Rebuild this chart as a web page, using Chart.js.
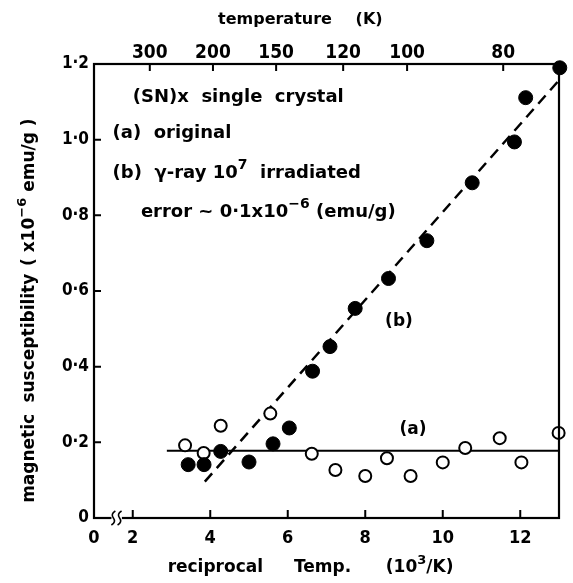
<!DOCTYPE html>
<html>
<head>
<meta charset="utf-8">
<script src="https://cdn.jsdelivr.net/npm/chart.js@4.4.0/dist/chart.umd.min.js"></script>
<style>
  body { margin: 0; background: #fff; }
  #wrap { width: 573px; height: 583px; }
</style>
</head>
<body>
<div id="wrap"><canvas id="myChart"></canvas></div>
<script>
// (a) original - open circles
let origX = [3.35, 3.83, 4.27, 5.55, 6.62, 7.23, 8.0, 8.56, 9.17, 10.0, 10.58, 11.47, 12.03, 12.99];
let origY = [0.192, 0.172, 0.244, 0.276, 0.170, 0.127, 0.111, 0.158, 0.111, 0.147, 0.185, 0.211, 0.147, 0.225];

// (b) gamma-ray irradiated - filled circles
let irrX = [3.43, 3.84, 4.27, 5.0, 5.62, 6.04, 6.64, 7.09, 7.74, 8.60, 9.59, 10.76, 11.85, 12.14, 13.02];
let irrY = [0.141, 0.141, 0.176, 0.148, 0.196, 0.238, 0.388, 0.453, 0.554, 0.633, 0.733, 0.886, 0.994, 1.111, 1.190];

// guide lines
let lineAX = [2.88, 13];
let lineAY = [0.178, 0.178];
let lineBX = [3.86, 13];
let lineBY = [0.096, 1.157];

// axis ticks
let bottomTicks = [1, 2, 4, 6, 8, 10, 12];
let bottomLabels = ['0', '2', '4', '6', '8', '10', '12'];
let topTicks = [2.44, 4.07, 5.70, 7.43, 9.08, 11.56];
let topLabels = ['300', '200', '150', '120', '100', '80'];
let yTicks = [0, 0.2, 0.4, 0.6, 0.8, 1.0, 1.2];
let yLabels = ['0', '0·2', '0·4', '0·6', '0·8', '1·0', '1·2'];

const COND = '"DejaVu Sans Condensed", "DejaVu Sans", sans-serif';
const WIDE = '"DejaVu Sans", sans-serif';

const toPts = (xs, ys) => xs.map((x, i) => ({ x: x, y: ys[i] }));

// text with superscripts: parts = [[text, isSup], ...]
const richText = (ctx, parts, x, y, size, family, align) => {
  const norm = 'bold ' + size + 'px ' + family;
  const small = 'bold ' + Math.round(size * 0.75) + 'px ' + family;
  let total = 0;
  parts.forEach(p => {
    ctx.font = p[1] ? small : norm;
    total += ctx.measureText(p[0]).width;
  });
  let cx = align === 'center' ? x - total / 2 : x;
  ctx.textAlign = 'left';
  ctx.textBaseline = 'middle';
  parts.forEach(p => {
    ctx.font = p[1] ? small : norm;
    ctx.fillText(p[0], cx, p[1] ? y - size * 0.45 : y);
    cx += ctx.measureText(p[0]).width;
  });
};

const frame = {
  id: 'frame',
  afterDatasetsDraw(chart) {
    const ctx = chart.ctx;
    const a = chart.chartArea;
    const sx = chart.scales.x, sy = chart.scales.y, st = chart.scales.x2;
    ctx.save();
    ctx.strokeStyle = '#000';
    ctx.fillStyle = '#000';
    ctx.lineWidth = 2.2;
    ctx.strokeRect(a.left, a.top, a.right - a.left, a.bottom - a.top);

    // inward tick marks
    ctx.lineWidth = 2;
    ctx.beginPath();
    yTicks.forEach(v => {
      const py = sy.getPixelForValue(v);
      ctx.moveTo(a.left, py);
      ctx.lineTo(a.left + 7, py);
    });
    bottomTicks.slice(1).forEach(v => {
      const px = sx.getPixelForValue(v);
      ctx.moveTo(px, a.bottom);
      ctx.lineTo(px, a.bottom - 8);
    });
    topTicks.forEach(v => {
      const px = st.getPixelForValue(v);
      ctx.moveTo(px, a.top);
      ctx.lineTo(px, a.top + 7);
    });
    ctx.stroke();

    // axis break
    const b1 = sx.getPixelForValue(1.45), b2 = sx.getPixelForValue(1.72);
    ctx.fillStyle = '#fff';
    ctx.fillRect(b1, a.bottom - 3, b2 - b1, 6);
    ctx.strokeStyle = '#000';
    ctx.lineWidth = 1.6;
    [1.5, 1.66].forEach(v => {
      const px = sx.getPixelForValue(v);
      ctx.beginPath();
      ctx.moveTo(px + 2, a.bottom - 7);
      ctx.quadraticCurveTo(px - 3, a.bottom - 4, px, a.bottom);
      ctx.quadraticCurveTo(px + 3, a.bottom + 4, px - 2, a.bottom + 7);
      ctx.stroke();
    });

    // titles
    ctx.fillStyle = '#000';
    richText(ctx, [['temperature', false]], sx.getPixelForValue(4.2), 20, 16, WIDE, 'left');
    richText(ctx, [['(K)', false]], sx.getPixelForValue(7.75), 20, 16, WIDE, 'left');
    richText(ctx, [['reciprocal', false]], sx.getPixelForValue(2.9), 568, 17, WIDE, 'left');
    richText(ctx, [['Temp.', false]], sx.getPixelForValue(6.16), 568, 17, WIDE, 'left');
    richText(ctx, [['(10', false], ['3', true], ['/K)', false]], sx.getPixelForValue(8.53), 568, 17, WIDE, 'left');
    ctx.save();
    ctx.translate(30, 0);
    ctx.rotate(-Math.PI / 2);
    richText(ctx, [['magnetic', false]], -sy.getPixelForValue(0.04), 0, 17, WIDE, 'left');
    richText(ctx, [['susceptibility', false]], -sy.getPixelForValue(0.305), 0, 17, WIDE, 'left');
    richText(ctx, [['( x10', false], ['−6', true], [' emu/g )', false]], -sy.getPixelForValue(0.666), 0, 17, WIDE, 'left');
    ctx.restore();

    // annotations
    const at = (x, y) => [sx.getPixelForValue(x), sy.getPixelForValue(y)];
    let p = at(2.0, 1.112);
    richText(ctx, [['(SN)x  single  crystal', false]], p[0], p[1], 18, WIDE, 'left');
    p = at(1.48, 1.018);
    richText(ctx, [['(a)  original', false]], p[0], p[1], 18, WIDE, 'left');
    p = at(1.48, 0.912);
    richText(ctx, [['(b)  γ-ray 10', false], ['7', true], ['  irradiated', false]], p[0], p[1], 18, WIDE, 'left');
    p = at(2.21, 0.808);
    richText(ctx, [['error ~ 0·1x10', false], ['−6', true], [' (emu/g)', false]], p[0], p[1], 18, WIDE, 'left');
    p = at(8.87, 0.52);
    richText(ctx, [['(b)', false]], p[0], p[1], 17, WIDE, 'center');
    p = at(9.23, 0.233);
    richText(ctx, [['(a)', false]], p[0], p[1], 17, WIDE, 'center');
    ctx.restore();
  }
};

const ctx = document.getElementById('myChart');

new Chart(ctx, {
  type: 'scatter',
  data: {
    datasets: [
      {
        label: '(a) fit',
        type: 'line',
        data: toPts(lineAX, lineAY),
        borderColor: '#000',
        borderWidth: 2,
        pointRadius: 0,
        order: 3,
      },
      {
        label: '(b) fit',
        type: 'line',
        data: toPts(lineBX, lineBY),
        borderColor: '#000',
        borderWidth: 2.5,
        borderDash: [11, 7],
        pointRadius: 0,
        order: 3,
      },
      {
        label: '(a) original',
        data: toPts(origX, origY),
        pointRadius: 6,
        pointBackgroundColor: '#fff',
        pointBorderColor: '#000',
        pointBorderWidth: 2,
        clip: false,
        order: 2,
      },
      {
        label: '(b) irradiated',
        data: toPts(irrX, irrY),
        pointRadius: 7,
        pointBackgroundColor: '#000',
        pointBorderColor: '#000',
        pointBorderWidth: 1,
        clip: false,
        order: 1,
      },
    ],
  },
  options: {
    responsive: true,
    maintainAspectRatio: false,
    animation: false,
    layout: { padding: { left: 0, right: 14, top: 0, bottom: 0 } },
    plugins: { legend: { display: false }, tooltip: { enabled: false } },
    scales: {
      x: {
        type: 'linear',
        position: 'bottom',
        min: 1,
        max: 13,
        afterBuildTicks: s => { s.ticks = bottomTicks.map(v => ({ value: v })); },
        afterFit: s => { s.height = 65; },
        ticks: {
          callback: v => bottomLabels[bottomTicks.indexOf(v)],
          font: { family: COND, size: 18, weight: 'bold' },
          color: '#000',
          padding: 10,
          maxRotation: 0,
          autoSkip: false,
        },
        grid: { display: false, drawTicks: false },
        border: { display: false },
      },
      x2: {
        type: 'linear',
        position: 'top',
        min: 1,
        max: 13,
        afterBuildTicks: s => { s.ticks = topTicks.map(v => ({ value: v })); },
        afterFit: s => { s.height = 64; },
        ticks: {
          callback: v => topLabels[topTicks.indexOf(v)],
          font: { family: COND, size: 19, weight: 'bold' },
          color: '#000',
          padding: 0,
          maxRotation: 0,
          autoSkip: false,
        },
        grid: { display: false, drawTicks: false },
        border: { display: false },
      },
      y: {
        min: 0,
        max: 1.2,
        afterBuildTicks: s => { s.ticks = yTicks.map(v => ({ value: v })); },
        afterFit: s => { s.width = 94; },
        ticks: {
          callback: v => yLabels[yTicks.indexOf(v)],
          font: { family: COND, size: 17, weight: 'bold' },
          color: '#000',
          padding: 5,
          autoSkip: false,
        },
        grid: { display: false, drawTicks: false },
        border: { display: false },
      },
    },
  },
  plugins: [frame],
});
</script>
</body>
</html>
